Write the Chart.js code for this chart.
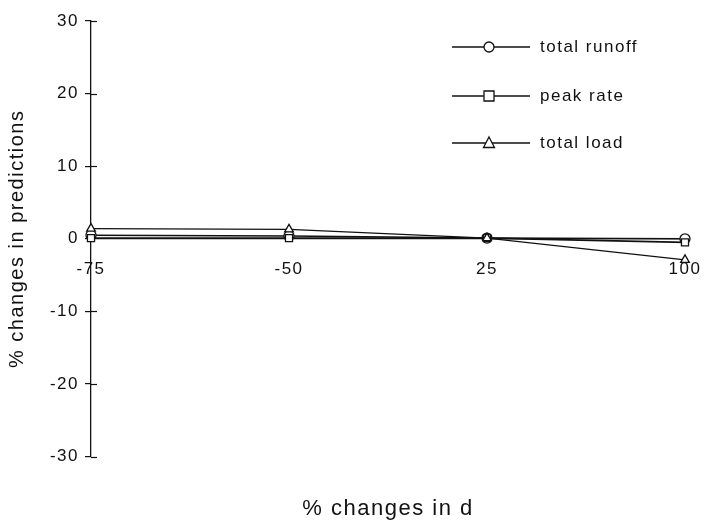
<!DOCTYPE html>
<html>
<head>
<meta charset="utf-8">
<script src="https://cdn.jsdelivr.net/npm/chart.js@4.4.0/dist/chart.umd.min.js"></script>
<style>
html,body{margin:0;padding:0;background:#fff;}
#wrap{width:707px;height:525px;}
</style>
</head>
<body>
<div id="wrap"><canvas id="c" width="707" height="525"></canvas></div>
<script>
const categories = ['-75', '-50', '25', '100'];
const totalRunoff = [0.5, 0.4, 0.1, 0.0];
const peakRate = [0.1, 0.1, 0.1, -0.5];
const totalLoad = [1.4, 1.3, 0.1, -2.9];
const yTicks = [-30, -20, -10, 0, 10, 20, 30];
const seriesNames = ['total runoff', 'peak rate', 'total load'];
const seriesMarkers = ['circle', 'rect', 'triangle'];

const FONT = "'Liberation Sans', Arial, sans-serif";

const spacingPlugin = {
  id: 'letterSpacing',
  beforeUpdate(chart) { chart.ctx.letterSpacing = '1.5px'; },
  beforeDraw(chart) { chart.ctx.letterSpacing = '1.5px'; }
};

// tick marks on the y axis cross the axis line (inner half)
const crossTickPlugin = {
  id: 'crossTicks',
  afterDraw(chart) {
    const ys = chart.scales.y;
    const ctx = chart.ctx;
    ctx.save();
    ctx.strokeStyle = '#111';
    ctx.lineWidth = 1.2;
    ys.ticks.forEach(t => {
      if (t.value === 0) return;
      const py = Math.round(ys.getPixelForValue(t.value)) + 0.5;
      ctx.beginPath();
      ctx.moveTo(ys.right, py);
      ctx.lineTo(ys.right + 6, py);
      ctx.stroke();
    });
    ctx.restore();
  }
};

const legendPlugin = {
  id: 'customLegend',
  afterDraw(chart) {
    const ctx = chart.ctx;
    const rows = [47, 96, 143];
    ctx.save();
    chart.data.datasets.forEach((ds, i) => {
      const y = rows[i];
      ctx.strokeStyle = '#111';
      ctx.lineWidth = 1.3;
      ctx.beginPath();
      ctx.moveTo(452, y);
      ctx.lineTo(530, y);
      ctx.stroke();
      ctx.fillStyle = '#fff';
      ctx.beginPath();
      if (ds.pointStyle === 'circle') ctx.arc(489, y, 5, 0, Math.PI * 2);
      else if (ds.pointStyle === 'rect') ctx.rect(484, y - 5, 10, 10);
      else { ctx.moveTo(489, y - 6); ctx.lineTo(494.5, y + 4.5); ctx.lineTo(483.5, y + 4.5); ctx.closePath(); }
      ctx.fill();
      ctx.stroke();
      ctx.fillStyle = '#111';
      ctx.font = '17px ' + FONT;
      ctx.textBaseline = 'middle';
      ctx.textAlign = 'left';
      ctx.fillText(ds.label, 540, y);
    });
    ctx.restore();
  }
};

const mk = (label, data, style, w, order) => ({
  label, data, order,
  borderColor: '#111',
  borderWidth: w,
  backgroundColor: '#fff',
  pointStyle: style,
  pointRadius: 5,
  pointBorderWidth: 1.3,
  pointBorderColor: '#111',
  pointBackgroundColor: '#fff',
  tension: 0,
  fill: false
});

new Chart(document.getElementById('c'), {
  type: 'line',
  data: {
    labels: categories,
    datasets: [
      mk(seriesNames[0], totalRunoff, seriesMarkers[0], 1.5, 2),
      mk(seriesNames[1], peakRate, seriesMarkers[1], 1.8, 1),
      mk(seriesNames[2], totalLoad, seriesMarkers[2], 1.2, 0)
    ]
  },
  options: {
    responsive: false,
    animation: false,
    layout: { padding: { left: 5, right: 22, top: 21, bottom: 3 } },
    plugins: {
      legend: { display: false },
      tooltip: { enabled: false },
      title: {
        display: true,
        position: 'bottom',
        fullSize: false,
        text: '% changes in d',
        color: '#111',
        font: { family: FONT, size: 22, weight: 'normal' },
        padding: { top: 39, bottom: 0 }
      }
    },
    scales: {
      x: {
        type: 'category',
        position: { y: 0 },
        offset: false,
        afterFit(scale) { scale.paddingRight = 0; scale.paddingLeft = 0; },
        grid: { display: false, drawTicks: false },
        border: { display: true, color: '#111', width: 1.3 },
        ticks: { color: '#111', font: { family: FONT, size: 17 }, padding: 20, maxRotation: 0 }
      },
      y: {
        min: -30, max: 30,
        afterBuildTicks(scale) { scale.ticks = yTicks.map(v => ({ value: v })); },
        afterFit(scale) { scale.width = 86; },
        grid: { display: true, drawOnChartArea: false, drawTicks: true, tickLength: 6, color: '#111', lineWidth: 1.2 },
        border: { display: true, color: '#111', width: 1.3 },
        ticks: { color: '#111', font: { family: FONT, size: 17 }, padding: 6 },
        title: {
          display: true,
          text: '% changes in predictions',
          color: '#111',
          font: { family: FONT, size: 20 },
          padding: { top: 0, bottom: 0 }
        }
      }
    }
  },
  plugins: [spacingPlugin, crossTickPlugin, legendPlugin]
});
</script>
</body>
</html>
